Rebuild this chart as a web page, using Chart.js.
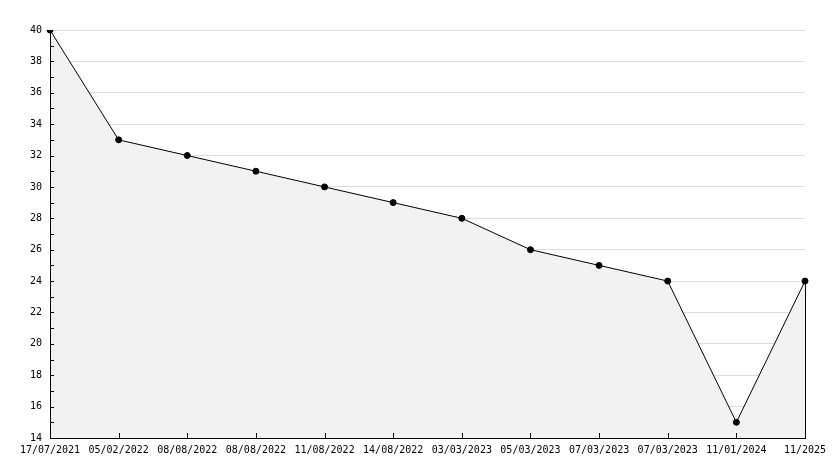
<!DOCTYPE html>
<html lang="en">
<head>
  <meta charset="UTF-8" />
  <title>Chart</title>
  <script src="https://cdn.jsdelivr.net/npm/chart.js@4.4.0/dist/chart.umd.min.js"></script>
  <style>
    html, body { margin: 0; padding: 0; background: #fff; }
    #wrap { width: 834px; height: 468px; }
  </style>
</head>
<body>
  <div id="wrap"><canvas id="chart" width="834" height="468"></canvas></div>

  <script>
    const labels = ['17/07/2021', '05/02/2022', '08/08/2022', '08/08/2022', '11/08/2022', '14/08/2022',
                    '03/03/2023', '05/03/2023', '07/03/2023', '07/03/2023', '11/01/2024', '11/2025'];
    const values = [40, 33, 32, 31, 30, 29, 28, 26, 25, 24, 15, 24];
    const yMin = 14, yMax = 40, yStep = 2;

    const font = { family: '"DejaVu Sans Mono", monospace', size: 10 };

    // small inside ticks on both axes + right edge of the filled area
    const tickPlugin = {
      id: 'ticks',
      afterDatasetsDraw(chart) {
        const { ctx, scales: { x, y } } = chart;
        ctx.save();
        ctx.strokeStyle = '#000';
        ctx.lineWidth = 1;
        ctx.beginPath();
        for (let v = yMin + 1; v < yMax; v++) {
          const py = Math.round(y.getPixelForValue(v)) + 0.5;
          ctx.moveTo(x.left, py);
          ctx.lineTo(x.left + 4, py);
        }
        labels.forEach((l, i) => {
          const px = Math.round(x.getPixelForTick(i)) + 0.5;
          ctx.moveTo(px, y.bottom);
          ctx.lineTo(px, y.bottom - 5);
        });
        const lx = Math.round(x.getPixelForValue(values.length - 1)) + 0.5;
        ctx.moveTo(lx, y.getPixelForValue(values[values.length - 1]));
        ctx.lineTo(lx, y.bottom);
        ctx.stroke();
        ctx.restore();
      }
    };

    new Chart(document.getElementById('chart'), {
      type: 'line',
      data: {
        labels,
        datasets: [{
          data: values,
          borderColor: '#000',
          borderWidth: 1,
          backgroundColor: '#f2f2f2',
          fill: 'start',
          tension: 0,
          pointRadius: 3,
          pointBackgroundColor: '#000',
          pointBorderColor: '#000',
          pointBorderWidth: 1
        }]
      },
      options: {
        responsive: false,
        animation: false,
        layout: { padding: { top: 30, right: 29, left: 0, bottom: 0 } },
        plugins: { legend: { display: false }, tooltip: { enabled: false } },
        scales: {
          x: {
            offset: false,
            grid: { display: false, drawTicks: false },
            border: { display: true, color: '#000', width: 1, z: 1 },
            ticks: { color: '#000', font, padding: 6, maxRotation: 0, autoSkip: false },
            afterFit: s => { s.height = 30; }
          },
          y: {
            min: yMin,
            max: yMax,
            grid: { color: '#dcdcdc', drawTicks: false },
            border: { display: true, color: '#000', width: 1, z: 1 },
            ticks: { stepSize: yStep, color: '#000', font, padding: 8 },
            afterFit: s => { s.width = 50; }
          }
        }
      },
      plugins: [tickPlugin]
    });
  </script>
</body>
</html>
